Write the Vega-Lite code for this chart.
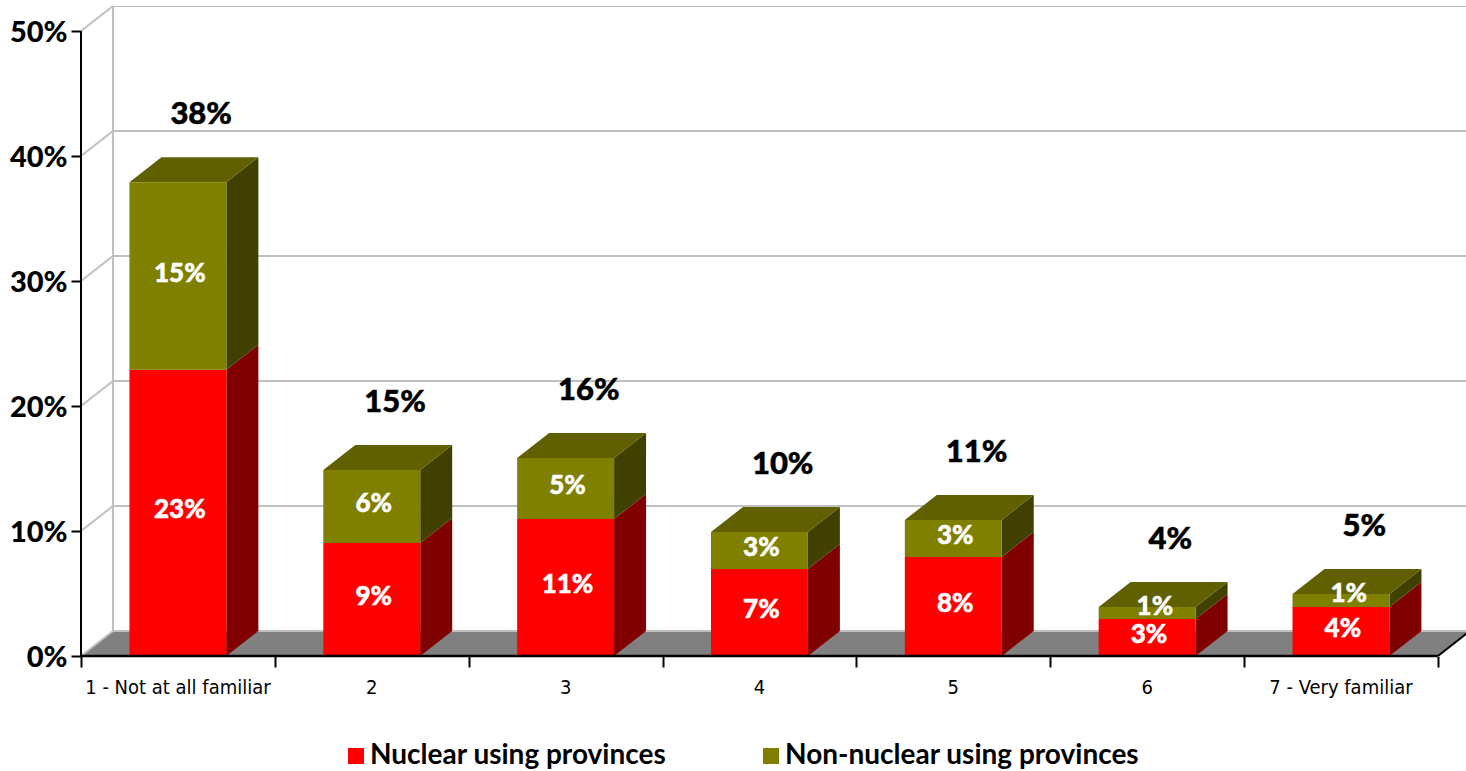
{
"$schema":"https://vega.github.io/schema/vega-lite/v6.json",
"width":1385,"height":650,
"autosize":"none",
"padding":{"left":81,"top":6,"right":0,"bottom":115},
"background":"white",
"config":{"view":{"stroke":null}},
"datasets":{
"bars":[
{"rank":1,"category":"1 - Not at all familiar","series":"Nuclear using provinces","value":22.9},
{"rank":1,"category":"1 - Not at all familiar","series":"Non-nuclear using provinces","value":15},
{"rank":2,"category":"2","series":"Nuclear using provinces","value":9.04},
{"rank":2,"category":"2","series":"Non-nuclear using provinces","value":5.84},
{"rank":3,"category":"3","series":"Nuclear using provinces","value":10.96},
{"rank":3,"category":"3","series":"Non-nuclear using provinces","value":4.88},
{"rank":4,"category":"4","series":"Nuclear using provinces","value":6.96},
{"rank":4,"category":"4","series":"Non-nuclear using provinces","value":2.96},
{"rank":5,"category":"5","series":"Nuclear using provinces","value":7.92},
{"rank":5,"category":"5","series":"Non-nuclear using provinces","value":2.96},
{"rank":6,"category":"6","series":"Nuclear using provinces","value":2.96},
{"rank":6,"category":"6","series":"Non-nuclear using provinces","value":0.96},
{"rank":7,"category":"7 - Very familiar","series":"Nuclear using provinces","value":3.92},
{"rank":7,"category":"7 - Very familiar","series":"Non-nuclear using provinces","value":1.04}
],
"ticks":[{"v":0},{"v":10},{"v":20},{"v":30},{"v":40},{"v":50}]
},
"encoding":{
"x":{"field":"xa","type":"quantitative","title":null,"scale":{"domain":[0,7.145],"nice":false,"zero":false},
"axis":{"values":[0,1,2,3,4,5,6,7],"labels":false,"domain":false,"grid":false,"tickSize":11,"tickWidth":2,"tickColor":"#000000","title":null}},
"y":{"field":"ya","type":"quantitative","title":null,"scale":{"domain":[0,52],"nice":false,"zero":false},
"axis":{"values":[0,10,20,30,40,50],"labelExpr":"datum.value+'%'","domain":false,"grid":false,"tickSize":10,"tickWidth":2,"tickColor":"#000000","labelPadding":4,"labelOffset":1,"labelFont":"Lato","labelFontWeight":900,"labelFontSize":29,"labelColor":"#000000","title":null}}
},
"layer":[
{"data":{"values":[{"t":0},{"t":1}]},
 "transform":[{"calculate":"datum.t*2","as":"ya"},{"calculate":"datum.t*0.165","as":"xa"},{"calculate":"7+datum.t*0.165","as":"xb"}],
 "mark":{"type":"area","orient":"horizontal","color":"#808080","clip":true},
 "encoding":{"x2":{"field":"xb"}}},
{"data":{"name":"ticks"},
 "transform":[{"calculate":"datum.v+2","as":"ya"},{"calculate":"0.165","as":"xa"},{"calculate":"7.165","as":"xb"}],
 "mark":{"type":"rule","color":"#c0c0c0","strokeWidth":2,"clip":true},
 "encoding":{"x2":{"field":"xb"}}},
{"data":{"name":"ticks"},
 "transform":[{"calculate":"datum.v","as":"ya"},{"calculate":"datum.v+2","as":"yb"},{"calculate":"0","as":"xa"},{"calculate":"0.165","as":"xb"}],
 "mark":{"type":"rule","color":"#c0c0c0","strokeWidth":2},
 "encoding":{"x2":{"field":"xb"},"y2":{"field":"yb"}}},
{"data":{"values":[{"ya":2,"yb":52,"xa":0.165}]},
 "mark":{"type":"rule","color":"#c0c0c0","strokeWidth":2},
 "encoding":{"y2":{"field":"yb"}}},
{"data":{"name":"bars"},
 "transform":[{"stack":"value","groupby":["rank"],"sort":[{"field":"series","order":"descending"}],"as":["start","end"]},
  {"calculate":"[0,1]","as":"t"},{"flatten":["t"]},
  {"calculate":"datum.rank-0.25+datum.t*0.165","as":"xa"},
  {"calculate":"datum.start+datum.t*2","as":"ya"},
  {"calculate":"datum.end+datum.t*2","as":"yb"}],
 "mark":{"type":"area","orient":"vertical"},
 "encoding":{"y2":{"field":"yb"},"detail":{"field":"rank"},
  "color":{"field":"series","type":"nominal","legend":null,"scale":{"domain":["Nuclear using provinces","Non-nuclear using provinces"],"range":["#800000","#404000"]}}}},
{"data":{"name":"bars"},
 "transform":[{"stack":"value","groupby":["rank"],"sort":[{"field":"series","order":"descending"}],"as":["start","end"]},
  {"filter":"datum.series=='Non-nuclear using provinces'"},
  {"calculate":"[0,1]","as":"t"},{"flatten":["t"]},
  {"calculate":"datum.rank-0.75+datum.t*0.165","as":"xa"},
  {"calculate":"datum.rank-0.25+datum.t*0.165","as":"xb"},
  {"calculate":"datum.end+datum.t*2","as":"ya"}],
 "mark":{"type":"area","orient":"horizontal","color":"#606000"},
 "encoding":{"x2":{"field":"xb"},"detail":{"field":"rank"}}},
{"data":{"name":"bars"},
 "transform":[{"stack":"value","groupby":["rank"],"sort":[{"field":"series","order":"descending"}],"as":["start","end"]},
  {"calculate":"datum.rank-0.75","as":"xa"},{"calculate":"datum.rank-0.25","as":"xb"},
  {"calculate":"datum.start","as":"ya"},{"calculate":"datum.end","as":"yb"}],
 "mark":{"type":"rect"},
 "encoding":{"x2":{"field":"xb"},"y2":{"field":"yb"},
  "color":{"field":"series","type":"nominal","scale":{"domain":["Nuclear using provinces","Non-nuclear using provinces"],"range":["#ff0000","#808000"]},
   "legend":{"title":null,"orient":"none","legendX":261,"legendY":736,"direction":"horizontal","columns":2,"columnPadding":90,"symbolType":"square","symbolSize":256,"symbolStrokeWidth":0,"labelFont":"Lato","labelFontWeight":"bold","labelFontSize":28,"labelColor":"#000000","labelOffset":0,"labelLimit":500,"symbolOpacity":1}}}},
{"data":{"values":[{"xa":0,"xb":7,"ya":0}]},
 "mark":{"type":"rule","color":"#000000","strokeWidth":2.5},
 "encoding":{"x2":{"field":"xb"}}},
{"data":{"values":[{"xa":0,"ya":0,"yb":50}]},
 "mark":{"type":"rule","color":"#000000","strokeWidth":2},
 "encoding":{"y2":{"field":"yb"}}},
{"data":{"values":[{"xa":7,"xb":7.165,"ya":0,"yb":2}]},
 "mark":{"type":"rule","color":"#000000","strokeWidth":2,"clip":true},
 "encoding":{"x2":{"field":"xb"},"y2":{"field":"yb"}}},
{"data":{"name":"bars"},
 "transform":[{"stack":"value","groupby":["rank"],"sort":[{"field":"series","order":"descending"}],"as":["start","end"]},
  {"calculate":"datum.rank-0.5+(datum.value<1.5?0.04:0.01)","as":"xa"},
  {"calculate":"(datum.start+datum.end)/2+0.2+(datum.value<1.5?0.3:0)","as":"ya"},
  {"calculate":"format(datum.value,'.0f')+'%'","as":"label"}],
 "mark":{"type":"text","color":"#ffffff","font":"Lato","fontWeight":900,"fontSize":26,"baseline":"middle","align":"center","stroke":"#ffffff","strokeWidth":0.5},
 "encoding":{"text":{"field":"label"}}},
{"data":{"name":"bars"},
 "transform":[{"stack":"value","groupby":["rank"],"sort":[{"field":"series","order":"descending"}],"as":["start","end"]},
  {"filter":"datum.series=='Non-nuclear using provinces'"},
  {"calculate":"datum.rank-0.5+0.12","as":"xa"},
  {"calculate":"datum.end+5.4","as":"ya"},
  {"calculate":"format(datum.end,'.0f')+'%'","as":"label"}],
 "mark":{"type":"text","color":"#000000","font":"Lato","fontWeight":900,"fontSize":31,"baseline":"middle","align":"center","stroke":"#000000","strokeWidth":0.5},
 "encoding":{"text":{"field":"label"}}},
{"data":{"name":"bars"},
 "transform":[{"filter":"datum.series=='Nuclear using provinces'"},
  {"calculate":"datum.rank-0.5","as":"xa"},{"calculate":"0","as":"ya"}],
 "mark":{"type":"text","color":"#000000","font":"DejaVu Sans Condensed, Lato, sans-serif","fontSize":20,"baseline":"middle","align":"center","dy":32},
 "encoding":{"text":{"field":"category"}}}
],
"resolve":{"scale":{"color":"independent"}}
}
